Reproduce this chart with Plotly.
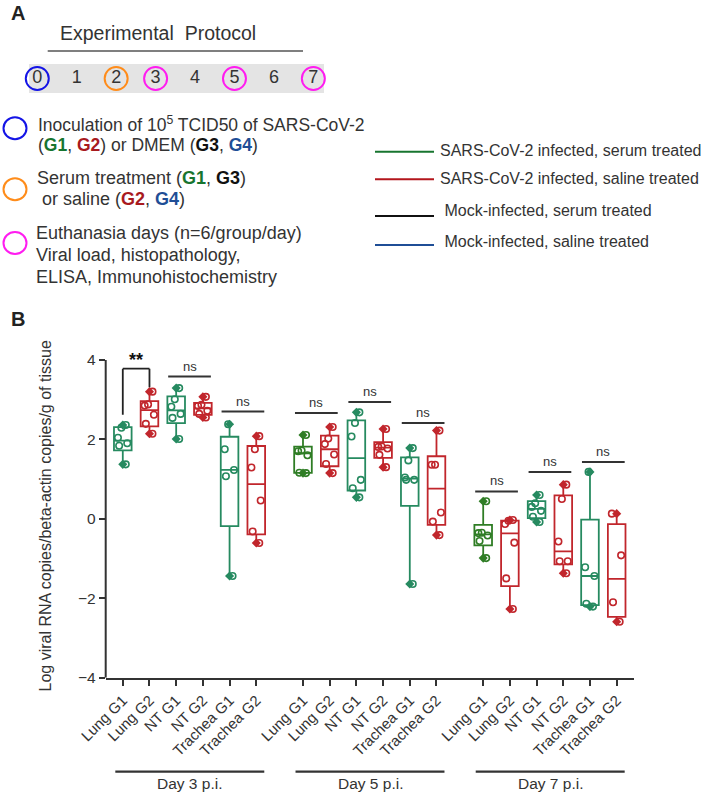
import numpy as np
import plotly.graph_objects as go

W, H = 708, 793
FONT = "Liberation Sans, Arial, sans-serif"
INK = "#333333"

# ---- panel B data ----------------------------------------------------------
days = ["Day 3 p.i.", "Day 5 p.i.", "Day 7 p.i."]
tissues = ["Lung G1", "Lung G2", "NT G1", "NT G2", "Trachea G1", "Trachea G2"]

# log viral RNA copies / beta-actin copies / g of tissue, one list per box
day3_pts = [
    [1.37, 1.84, 1.90, 2.04, 2.29, 2.36],
    [2.14, 2.39, 2.62, 2.85, 2.88, 3.20],
    [2.01, 2.54, 2.64, 2.82, 3.01, 3.29],
    [2.55, 2.64, 2.72, 2.84, 2.87, 3.07],
    [-1.44, 1.07, 1.23, 1.75, 2.38],
    [-0.61, -0.32, 0.46, 1.29, 1.75, 2.08],
]
day5_pts = [
    [1.15, 1.16, 1.60, 1.70, 1.72, 2.11],
    [1.15, 1.38, 1.62, 1.88, 2.02, 2.31],
    [0.54, 0.77, 0.98, 2.07, 2.41, 2.68],
    [1.30, 1.61, 1.77, 1.81, 1.82, 2.26],
    [-1.64, 0.98, 0.98, 1.04, 1.47, 1.78],
    [-0.41, -0.07, 0.16, 1.36, 1.36, 2.22],
]
day7_pts = [
    [-0.99, -0.56, -0.42, -0.36, -0.35, 0.44],
    [-2.27, -1.50, -0.60, -0.13, -0.05, -0.03],
    [-0.08, 0.05, 0.20, 0.30, 0.39, 0.60],
    [-1.37, -1.07, -1.07, -0.57, 0.50, 0.86],
    [-2.21, -2.14, -1.44, -1.22, 1.18],
    [-2.59, -2.10, -0.92, 0.13],
]
all_pts = [day3_pts, day5_pts, day7_pts]

# significance bars: day index, first tissue of the pair, bar height, label
sig_day = [0, 0, 0, 1, 1, 1, 2, 2, 2]
sig_first = [0, 2, 4, 0, 2, 4, 0, 2, 4]
sig_y = [3.78, 3.58, 2.70, 2.66, 2.94, 2.41, 0.69, 1.18, 1.43]
sig_label = ["**", "ns", "ns", "ns", "ns", "ns", "ns", "ns", "ns"]
bracket_legs = [2.62, 3.31]

# ---- panel A data ----------------------------------------------------------
protocol_days = [0, 1, 2, 3, 4, 5, 6, 7]
ring_colors = ["#1414e6", None, "#ff8c1a", "#ff1cf0", None, "#ff1cf0", None, "#ff1cf0"]

legend_labels = [
    "SARS-CoV-2 infected, serum treated",
    "SARS-CoV-2 infected, saline treated",
    " Mock-infected, serum treated",
    " Mock-infected, saline treated",
]
legend_colors = ["#17752f", "#b3161c", "#111111", "#1f4e96"]

G1, G2, G3, G4 = "#17752f", "#a81a1e", "#111111", "#1f4e96"


def g(name, col):
    return f"<span style='color:{col}'><b>{name}</b></span>"


desc_lines = [
    "Inoculation of 10<sup>5</sup> TCID50 of SARS-CoV-2",
    f"({g('G1', G1)}, {g('G2', G2)}) or DMEM ({g('G3', G3)}, {g('G4', G4)})",
    f"Serum treatment ({g('G1', G1)}, {g('G3', G3)})",
    f" or saline ({g('G2', G2)}, {g('G4', G4)})",
    "Euthanasia days (n=6/group/day)",
    "Viral load, histopathology,",
    "ELISA, Immunohistochemistry",
]
desc_rings = ["#1414e6", "#ff8c1a", "#ff1cf0"]


def px(x):
    return x / W


def py(y):
    return 1 - y / H


GREEN = "#268a60"
GREEN_DARK = "#2f7d25"
RED = "#c1262c"
box_colors = [
    [GREEN, RED, GREEN, RED, GREEN, RED],
    [GREEN_DARK, RED, GREEN, RED, GREEN, RED],
    [GREEN_DARK, RED, GREEN, RED, GREEN, RED],
]

day_offset = [0, 6.75, 13.5]
fig = go.Figure()

positions, labels = [], []
cap_x, cap_y, cap_c = [], [], []
for d, pts_day in enumerate(all_pts):
    for i, pts in enumerate(pts_day):
        pos = day_offset[d] + i
        c = box_colors[d][i]
        q1, med, q3 = np.percentile(pts, [25, 50, 75], method="weibull")
        lo, hi = min(pts), max(pts)
        positions.append(pos)
        labels.append(tissues[i])
        fig.add_trace(go.Box(
            x=[pos], q1=[q1], median=[med], q3=[q3],
            lowerfence=[lo], upperfence=[hi],
            width=0.66, whiskerwidth=0, boxpoints=False,
            fillcolor="rgba(0,0,0,0)", line=dict(color=c, width=1.8),
            hoverinfo="skip", showlegend=False,
        ))
        fig.add_trace(go.Box(
            x=[pos] * len(pts), y=pts, boxpoints="all", jitter=0.65, pointpos=0,
            width=0.66, whiskerwidth=0,
            fillcolor="rgba(0,0,0,0)", line=dict(color="rgba(0,0,0,0)", width=0),
            marker=dict(symbol="circle-open", size=6.5, color=c,
                        line=dict(color=c, width=1.6)),
            showlegend=False,
        ))
        cap_x += [pos, pos]
        cap_y += [lo, hi]
        cap_c += [c, c]

fig.add_trace(go.Scatter(
    x=cap_x, y=cap_y, mode="markers",
    marker=dict(symbol="diamond", size=7, color=cap_c),
    showlegend=False, hoverinfo="skip",
))

# protocol timeline (panel A)
fig.add_trace(go.Scatter(
    x=protocol_days, y=[0.5] * len(protocol_days),
    mode="markers+text", text=[str(d) for d in protocol_days],
    textposition="middle center", cliponaxis=False,
    textfont=dict(size=18, color=INK, family=FONT),
    marker=dict(symbol="circle-open", size=23,
                color=[c if c else "rgba(0,0,0,0)" for c in ring_colors],
                line=dict(width=2)),
    xaxis="x2", yaxis="y2", showlegend=False, hoverinfo="skip",
))

shapes = []
annotations = []

# y axis line only from -4 to 4
shapes.append(dict(type="line", xref="x domain", yref="y", x0=0, x1=0,
                   y0=-4, y1=4, line=dict(color=INK, width=2)))

# significance bars
for k in range(len(sig_y)):
    a = day_offset[sig_day[k]] + sig_first[k]
    b = a + 1
    if sig_label[k] == "**":
        shapes.append(dict(type="line", xref="x", yref="y", x0=a, x1=b,
                           y0=sig_y[k], y1=sig_y[k], line=dict(color="#222", width=1.8)))
        shapes.append(dict(type="line", xref="x", yref="y", x0=a, x1=a,
                           y0=bracket_legs[0], y1=sig_y[k], line=dict(color="#222", width=1.8)))
        shapes.append(dict(type="line", xref="x", yref="y", x0=b, x1=b,
                           y0=bracket_legs[1], y1=sig_y[k], line=dict(color="#222", width=1.8)))
        annotations.append(dict(x=(a + b) / 2, y=sig_y[k], xref="x", yref="y",
                                text="<b>**</b>", showarrow=False, yanchor="bottom",
                                yshift=-3, font=dict(size=18, color="#111", family=FONT)))
    else:
        shapes.append(dict(type="line", xref="x", yref="y", x0=a - 0.3, x1=b + 0.3,
                           y0=sig_y[k], y1=sig_y[k], line=dict(color=INK, width=2)))
        annotations.append(dict(x=(a + b) / 2, y=sig_y[k], xref="x", yref="y",
                                text="ns", showarrow=False, yanchor="bottom", yshift=1,
                                font=dict(size=13, color=INK, family=FONT)))

# day group lines under the tick labels
for d, name in enumerate(days):
    x0 = day_offset[d] - 0.28
    x1 = day_offset[d] + 5.3
    shapes.append(dict(type="line", xref="x", yref="paper", x0=x0, x1=x1,
                       y0=py(771.7), y1=py(771.7), line=dict(color=INK, width=2.2)))
    annotations.append(dict(x=(x0 + x1) / 2, y=py(783.5), xref="x", yref="paper",
                            text=name, showarrow=False, yanchor="middle",
                            font=dict(size=15.5, color=INK, family=FONT)))

# y axis title
annotations.append(dict(x=px(45), y=py(516.5), xref="paper", yref="paper",
                        text="Log viral RNA copies/beta-actin copies/g of tissue",
                        textangle=-90, showarrow=False,
                        xanchor="center", yanchor="middle",
                        font=dict(size=16, color=INK, family=FONT)))

# panel letters
for letter, yy in [("A", 13), ("B", 319)]:
    annotations.append(dict(x=px(9), y=py(yy), xref="paper", yref="paper",
                            text=f"<b>{letter}</b>", xanchor="left", yanchor="middle",
                            showarrow=False, font=dict(size=20, color="#222", family=FONT)))

# protocol header
annotations.append(dict(x=px(58), y=py(33), xref="paper", yref="paper",
                        text="Experimental  Protocol", xanchor="left", yanchor="middle",
                        showarrow=False, font=dict(size=19.5, color=INK, family=FONT)))
shapes.append(dict(type="line", xref="paper", yref="paper", x0=px(47.7), x1=px(303),
                   y0=py(51), y1=py(51), line=dict(color="#555", width=1.5)))
shapes.append(dict(type="rect", xref="x2 domain", yref="y2 domain", x0=0, x1=1,
                   y0=0, y1=1, fillcolor="#e4e4e4", line=dict(width=0), layer="below"))

# description rings and text
ring_y = [128.3, 189.3, 243]
for col, yc in zip(desc_rings, ring_y):
    shapes.append(dict(type="circle", xref="paper", yref="paper",
                       x0=px(3.5), x1=px(26.5), y0=py(yc + 11), y1=py(yc - 11),
                       line=dict(color=col, width=2)))
desc_x = [36, 36, 35, 35, 34, 34, 34]
desc_y = [123.5, 145, 178.3, 199, 233.3, 254.5, 276.7]
desc_size = [17.5, 17.5, 18, 18, 18, 18, 18]
for t, xx, yy, fs in zip(desc_lines, desc_x, desc_y, desc_size):
    annotations.append(dict(x=px(xx), y=py(yy), xref="paper", yref="paper", text=t,
                            xanchor="left", yanchor="middle", showarrow=False,
                            font=dict(size=fs, color=INK, family=FONT)))

# legend for the four groups
leg_line_y = [151.7, 179.3, 216, 245]
leg_text_y = [150, 178.3, 211, 241.7]
for lab, col, ly, ty in zip(legend_labels, legend_colors, leg_line_y, leg_text_y):
    shapes.append(dict(type="line", xref="paper", yref="paper", x0=px(375), x1=px(434),
                       y0=py(ly), y1=py(ly), line=dict(color=col, width=2)))
    annotations.append(dict(x=px(438), y=py(ty), xref="paper", yref="paper", text=lab,
                            xanchor="left", yanchor="middle", showarrow=False,
                            font=dict(size=16, color=INK, family=FONT)))

fig.update_layout(
    width=W, height=H,
    margin=dict(l=0, r=0, t=0, b=0, pad=0),
    paper_bgcolor="white", plot_bgcolor="rgba(0,0,0,0)",
    boxmode="overlay",
    font=dict(family=FONT, color=INK),
    xaxis=dict(
        domain=[px(105.7), px(634.3)], range=[-0.64, 19.16], automargin=False,
        tickvals=positions, ticktext=labels, tickangle=-45,
        tickfont=dict(size=15, color=INK),
        showline=True, linecolor=INK, linewidth=2,
        ticks="outside", ticklen=6, tickwidth=1.5, tickcolor=INK,
        showgrid=False, zeroline=False,
    ),
    yaxis=dict(
        domain=[py(677.7), py(344)], range=[-4, 4.4], automargin=False,
        tickvals=[-4, -2, 0, 2, 4], tickfont=dict(size=15.5, color=INK),
        showline=False, ticks="outside", ticklen=6, tickwidth=1.5, tickcolor=INK,
        showgrid=False, zeroline=False,
    ),
    xaxis2=dict(domain=[px(29), px(324)], range=[-0.21, 7.27], anchor="y2",
                visible=False, fixedrange=True, automargin=False),
    yaxis2=dict(domain=[py(93), py(64)], range=[0, 1], anchor="x2",
                visible=False, fixedrange=True, automargin=False),
    shapes=shapes,
    annotations=annotations,
)

# the page body has a default 8px margin; drop it so the figure fills the window
fig.write_html("out.html", config={"displayModeBar": False},
               post_script="document.body.style.margin = '0';")
